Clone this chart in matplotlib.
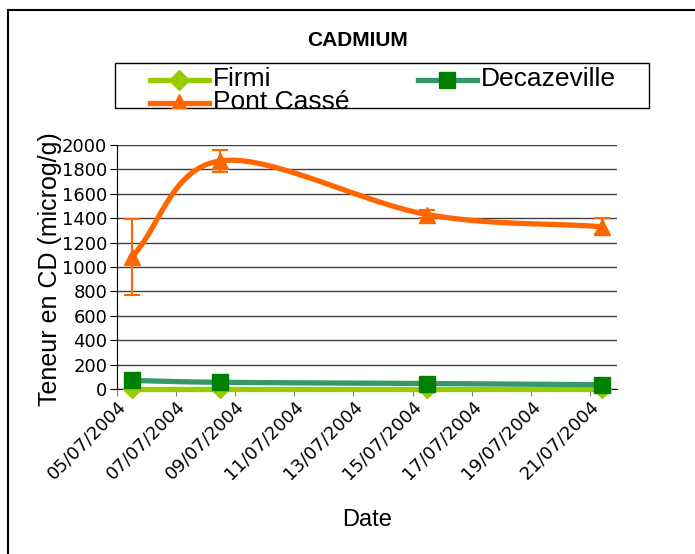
import datetime
import numpy as np
import matplotlib
matplotlib.use('Agg')
import matplotlib.pyplot as plt
import matplotlib.dates as mdates
from matplotlib.patches import Rectangle
from matplotlib.lines import Line2D

# Donnees
dates = [datetime.datetime(2004, 7, 5, 12), datetime.datetime(2004, 7, 8, 12),
         datetime.datetime(2004, 7, 15, 12), datetime.datetime(2004, 7, 21, 10)]
firmi = [2, 2, 2, 2]
decazeville = [70, 55, 45, 35]
pont_casse = [1080, 1870, 1430, 1330]
pont_err_low = [310, 90, 30, 60]
pont_err_high = [310, 90, 40, 70]
tick_dates = [datetime.datetime(2004, 7, 5) + datetime.timedelta(days=2 * i) for i in range(9)]

def smooth(xs, ys, n=40):
    # courbe lissee type Excel (Catmull-Rom)
    xs = np.asarray(xs, float)
    ys = np.asarray(ys, float)
    px = np.concatenate([[2 * xs[0] - xs[1]], xs, [2 * xs[-1] - xs[-2]]])
    py = np.concatenate([[2 * ys[0] - ys[1]], ys, [2 * ys[-1] - ys[-2]]])
    outx, outy = [], []
    t = np.linspace(0, 1, n)
    for i in range(1, len(px) - 2):
        for p, o in ((px, outx), (py, outy)):
            p0, p1, p2, p3 = p[i - 1], p[i], p[i + 1], p[i + 2]
            o.extend(0.5 * ((2 * p1) + (-p0 + p2) * t + (2 * p0 - 5 * p1 + 4 * p2 - p3) * t ** 2
                            + (-p0 + 3 * p1 - 3 * p2 + p3) * t ** 3))
    return np.array(outx), np.array(outy)

W, H = 695, 554
fig = plt.figure(figsize=(W / 100, H / 100), dpi=100)
ax = fig.add_axes([117 / W, 1 - 389 / H, (617 - 117) / W, (389 - 145) / H])

xnum = mdates.date2num(dates)
c_firmi = '#99CC00'
c_deca = '#339966'
c_pont = '#FF6600'

sx, sy = smooth(xnum, firmi)
ax.plot(sx, sy, color=c_firmi, lw=3.8, zorder=3, clip_on=False)
ax.plot(xnum, firmi, 'D', color=c_firmi, ms=9, zorder=4, clip_on=False)

sx, sy = smooth(xnum, decazeville)
ax.plot(sx, sy, color=c_deca, lw=3.8, zorder=5, clip_on=False)
ax.plot(xnum, decazeville, 's', color='#008000', ms=11, zorder=6, clip_on=False)

sx, sy = smooth(xnum, pont_casse)
ax.plot(sx, sy, color=c_pont, lw=3.8, zorder=3)
ax.errorbar(xnum, pont_casse, yerr=[pont_err_low, pont_err_high], fmt='^', color=c_pont,
            ms=12, elinewidth=1.5, capsize=6, capthick=1.5, zorder=4)

ax.set_ylim(0, 2000)
ax.set_yticks(np.arange(0, 2001, 200))
ax.set_xlim(mdates.date2num(datetime.datetime(2004, 7, 5)),
            mdates.date2num(datetime.datetime(2004, 7, 21, 22)))
ax.set_xticks(mdates.date2num(tick_dates))
ax.set_xticklabels([d.strftime('%d/%m/%Y') for d in tick_dates], rotation=45,
                   ha='right', rotation_mode='anchor', fontsize=13)
ax.tick_params(axis='y', labelsize=13, length=5, direction='out', pad=2)
ax.tick_params(axis='x', length=5, direction='out', color='#808080', pad=1)
ax.grid(axis='y', color='#404040', lw=1)
ax.set_axisbelow(True)
for s in ['top', 'right']:
    ax.spines[s].set_visible(False)
ax.set_ylabel('Teneur en CD (microg/g)', fontsize=18, family='Liberation Sans')
ax.yaxis.set_label_coords((62 - 117) / 500, 0.49)
ax.set_xlabel('Date', fontsize=17, family='Liberation Sans')
ax.xaxis.set_label_coords((367 - 117) / 500, (389 - 509) / 244)

fig.text(358 / W, 1 - 40 / H, 'CADMIUM', ha='center', va='center', fontsize=15,
         fontweight='bold', family='Liberation Sans')

# cadre exterieur
fig.patches.append(Rectangle((8 / W, -0.1), 1.2, 1 - 10 / H + 0.1, transform=fig.transFigure,
                             fill=False, ec='black', lw=1.5))

# legende (tronquee en bas comme dans l'original)
leg_box = Rectangle((115 / W, 1 - 108 / H), (649 - 115) / W, (108 - 63) / H,
                    transform=fig.transFigure, fc='white', ec='black', lw=1, zorder=5)
fig.patches.append(leg_box)
entries = [(150, 80, c_firmi, c_firmi, 'D', 10, 'Firmi'),
           (418, 80, c_deca, '#008000', 's', 12, 'Decazeville'),
           (150, 103, c_pont, c_pont, '^', 13, 'Pont Cassé')]
for x0, y0, lc, mc, mk, ms, lab in entries:
    ln = Line2D([x0 / W, (x0 + 59) / W], [1 - y0 / H] * 2, transform=fig.transFigure,
                color=lc, lw=3.8, zorder=6)
    mkr = Line2D([(x0 + 29) / W], [1 - y0 / H], transform=fig.transFigure, marker=mk,
                 color=mc, ms=ms, ls='none', zorder=7)
    txt = fig.text((x0 + 63) / W, 1 - (y0 - 1) / H, lab, ha='left', va='center', fontsize=19,
                   family='Liberation Sans', zorder=7)
    for a in (ln, mkr, txt):
        a.set_clip_path(leg_box)
    fig.lines.extend([ln, mkr])

fig.savefig('out.png', dpi=100)
